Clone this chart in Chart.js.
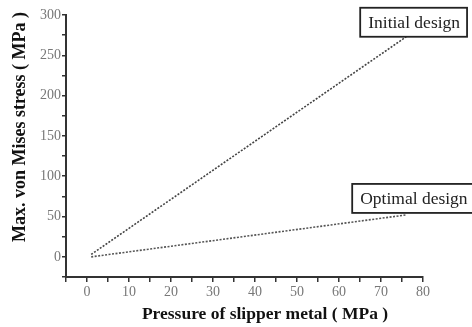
<!DOCTYPE html>
<html>
<head>
<meta charset="utf-8">
<script src="https://cdn.jsdelivr.net/npm/chart.js@4.4.0/dist/chart.umd.min.js"></script>
<style>
  html, body { margin: 0; padding: 0; background: #fff; }
  #wrap { width: 472px; height: 327px; }
</style>
</head>
<body>
<div id="wrap"><canvas id="stressChart" width="472" height="327"></canvas></div>
<script>
// pressure of slipper metal (MPa)
const pressure = [1, 76];
const initialStress = [3, 273];
const optimalStress = [0, 52];
const seriesNames = ['Initial design', 'Optimal design'];
const xTitle = 'Pressure of slipper metal ( MPa )';
const yTitle = 'Max. von Mises stress ( MPa )';
// where each label box sits relative to the line's end point
const boxOffsets = [{ dx: -46, dy: 0 }, { dx: -54, dy: -2 }];

const serif = '"Liberation Serif", "DejaVu Serif", serif';

const toPoints = (xs, ys) => xs.map((x, i) => ({ x: x, y: ys[i] }));

// axis titles sit a bit off-centre in the original, so draw them by hand
const axisTitles = {
    id: 'axisTitles',
    afterDraw(chart) {
        const ctx = chart.ctx;
        ctx.save();
        ctx.fillStyle = '#111';
        ctx.textAlign = 'center';
        ctx.textBaseline = 'middle';
        ctx.font = 'bold 17.5px ' + serif;
        ctx.fillText(xTitle, 265, 314);
        ctx.translate(20, 127);
        ctx.rotate(-Math.PI / 2);
        ctx.font = 'bold 18px ' + serif;
        ctx.fillText(yTitle, 0, 0);
        ctx.restore();
    }
};

const endLabels = {
    id: 'endLabels',
    afterDatasetsDraw(chart) {
        const ctx = chart.ctx;
        ctx.save();
        ctx.font = '17.5px ' + serif;
        ctx.textBaseline = 'middle';
        chart.data.datasets.forEach((ds, i) => {
            const pts = chart.getDatasetMeta(i).data;
            const end = pts[pts.length - 1];
            const off = boxOffsets[i];
            const w = ctx.measureText(seriesNames[i]).width + 15;
            const h = 29;
            const left = end.x + off.dx;
            const bottom = end.y + off.dy;
            ctx.fillStyle = '#fff';
            ctx.fillRect(left, bottom - h, w, h);
            ctx.strokeStyle = '#222';
            ctx.lineWidth = 1.8;
            ctx.strokeRect(left, bottom - h, w, h);
            ctx.fillStyle = '#222';
            ctx.fillText(seriesNames[i], left + 8, bottom - h / 2 + 1);
        });
        ctx.restore();
    }
};

const ctx = document.getElementById('stressChart').getContext('2d');
const stressChart = new Chart(ctx, {
    type: 'line',
    data: {
        datasets: [{
            label: seriesNames[0],
            data: toPoints(pressure, initialStress),
            borderColor: '#444',
            borderWidth: 1.6,
            borderDash: [2, 1.5],
            pointRadius: 0,
            fill: false
        }, {
            label: seriesNames[1],
            data: toPoints(pressure, optimalStress),
            borderColor: '#555',
            borderWidth: 1.6,
            borderDash: [2, 1.5],
            pointRadius: 0,
            fill: false
        }]
    },
    options: {
        responsive: false,
        animation: false,
        layout: { padding: { top: 15, right: 49, left: 0, bottom: 0 } },
        plugins: {
            legend: { display: false },
            tooltip: { enabled: false }
        },
        scales: {
            x: {
                type: 'linear',
                min: -5,
                max: 80,
                border: { color: '#333', width: 2 },
                grid: { drawOnChartArea: false, drawTicks: true, tickLength: 5, color: '#333', lineWidth: 1.5 },
                ticks: {
                    stepSize: 5,
                    autoSkip: false,
                    maxRotation: 0,
                    padding: 2,
                    color: '#777',
                    font: { family: serif, size: 14 },
                    callback: v => (v >= 0 && v % 10 === 0) ? v : ''
                },
                afterFit: s => { s.height = 50; }
            },
            y: {
                min: -25,
                max: 300,
                border: { color: '#333', width: 2 },
                grid: { drawOnChartArea: false, drawTicks: true, tickLength: 4, color: '#333', lineWidth: 1.5 },
                ticks: {
                    stepSize: 25,
                    autoSkip: false,
                    padding: 1,
                    color: '#777',
                    font: { family: serif, size: 14 },
                    callback: v => (v >= 0 && v % 50 === 0) ? v : ''
                },
                afterFit: s => { s.width = 66; }
            }
        }
    },
    plugins: [endLabels, axisTitles]
});
</script>
</body>
</html>
